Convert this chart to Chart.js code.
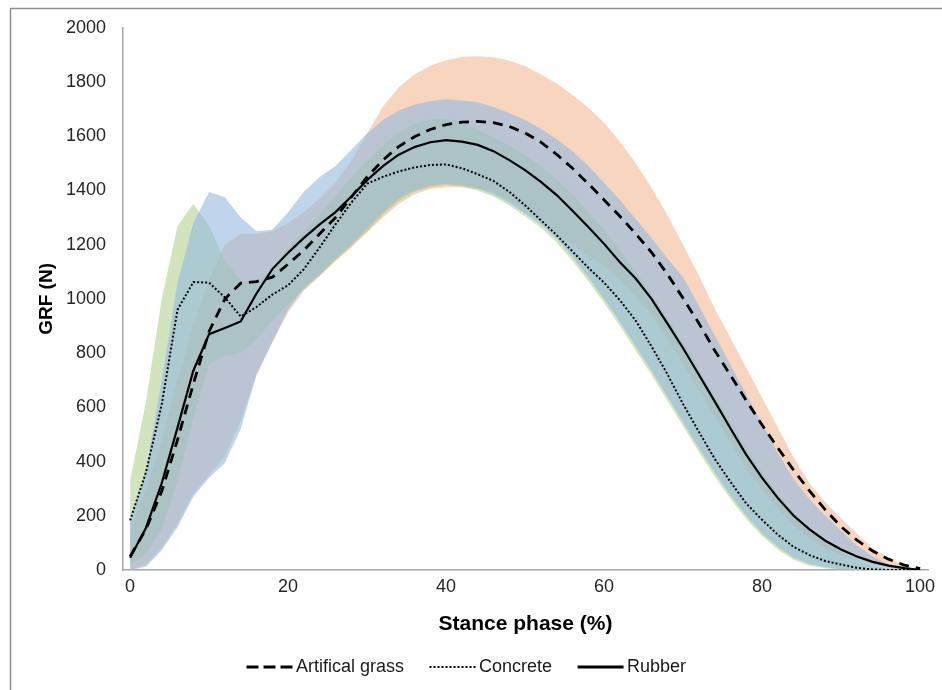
<!DOCTYPE html>
<html>
<head>
<meta charset="utf-8">
<script src="https://cdn.jsdelivr.net/npm/chart.js@4"></script>
<style>
  html, body { margin: 0; padding: 0; background: #fff; }
  #wrap { width: 942px; height: 690px; position: relative; }
</style>
</head>
<body>
<div id="wrap"><canvas id="grfChart" width="942" height="690"></canvas></div>
<script>
// stance phase (%), sampled every 2%
const STANCE = [0,2,4,6,8,10,12,14,16,18,20,22,24,26,28,30,32,34,36,38,40,42,44,46,48,50,
  52,54,56,58,60,62,64,66,68,70,72,74,76,78,80,82,84,86,88,90,92,94,96,98,100];

// mean GRF curves (N)
const grassMean = [50,150,290,480,686,880,1000,1058,1064,1080,1128,1180,1240,1300,1375,1450,1512,1562,1598,1625,1643,1652,1655,1650,1636,1612,
  1578,1533,1482,1425,1365,1305,1240,1172,1092,1002,910,810,718,625,535,450,368,292,222,160,110,70,40,18,5];
const concreteMean = [183,360,610,960,1062,1060,1005,935,970,1016,1050,1110,1190,1275,1355,1425,1450,1470,1485,1494,1496,1482,1460,1435,1395,1345,
  1290,1235,1175,1115,1060,995,920,825,723,612,510,410,325,245,185,130,85,55,33,20,8,2,0,0,0];
const rubberMean = [45,155,320,525,735,870,893,917,1020,1110,1170,1225,1275,1320,1378,1438,1490,1532,1560,1578,1586,1580,1568,1545,1512,1475,
  1432,1383,1325,1265,1203,1135,1075,1000,910,818,720,622,522,425,340,265,200,150,108,76,50,30,16,7,0];

// shaded variability bands (upper / lower, N)
const grassUpper = [150,290,480,700,900,1070,1200,1240,1240,1250,1280,1320,1370,1430,1510,1610,1710,1780,1828,1860,1880,1893,1895,1891,1878,1858,
  1828,1795,1752,1705,1650,1580,1500,1410,1310,1200,1085,965,855,745,635,525,415,320,250,190,135,80,45,15,0];
const grassLower = [0,20,80,170,280,350,420,550,720,840,950,1030,1085,1140,1190,1245,1300,1350,1385,1405,1412,1412,1405,1395,1365,1330,
  1290,1245,1200,1160,1120,1070,1010,940,850,760,660,565,470,375,295,225,165,118,80,55,35,18,8,2,0];
const rubberUpper = [180,370,700,1060,1280,1394,1375,1300,1250,1255,1320,1395,1450,1490,1550,1610,1660,1695,1716,1730,1736,1732,1725,1708,1686,1660,
  1628,1590,1545,1490,1428,1365,1295,1225,1150,1080,975,865,757,647,540,432,335,260,200,145,90,50,22,5,0];
const rubberLower = [0,12,73,158,270,340,395,520,720,840,960,1040,1090,1150,1200,1260,1320,1370,1400,1418,1425,1420,1408,1385,1355,1315,
  1275,1222,1155,1080,1000,915,825,735,640,545,450,360,275,200,135,85,45,22,10,3,0,0,0,0,0];
const concreteUpper = [330,620,1000,1270,1350,1270,1140,1070,1060,1110,1190,1250,1310,1380,1450,1510,1565,1615,1645,1662,1665,1652,1625,1595,1565,1530,
  1490,1440,1385,1320,1255,1180,1100,1020,930,840,740,640,545,450,360,280,210,150,100,65,35,15,5,0,0];
const concreteLower = [20,60,150,330,560,760,790,800,850,920,980,1035,1085,1140,1195,1250,1310,1360,1395,1412,1420,1415,1400,1378,1345,1305,
  1262,1208,1140,1065,985,900,810,720,625,530,435,345,262,188,125,75,38,16,6,0,0,0,0,0,0];

const X_TICKS = [0, 20, 40, 60, 80, 100];
const FONT = "'Liberation Sans', Arial, sans-serif";

const toXY = arr => arr.map((v, i) => ({ x: STANCE[i], y: v }));

function band(label, upper, lower, color, order) {
  return [
    { label: label + ' upper', data: toXY(upper), fill: '+1', backgroundColor: color,
      borderWidth: 0, pointRadius: 0, order },
    { label: label + ' lower', data: toXY(lower), fill: false,
      borderWidth: 0, pointRadius: 0, order },
  ];
}

function meanLine(label, values, dash, width) {
  return { label, data: toXY(values), borderColor: '#000', backgroundColor: '#000',
    borderWidth: width, borderDash: dash, pointRadius: 0, fill: false, order: 0 };
}

// small line samples for the legend (so the dash pattern shows)
function legendGlyph(dash, width) {
  const c = document.createElement('canvas');
  c.width = 60; c.height = 8;
  const g = c.getContext('2d');
  g.strokeStyle = '#000';
  g.lineWidth = width;
  g.setLineDash(dash);
  g.beginPath();
  g.moveTo(12, 4);
  g.lineTo(58, 4);
  g.stroke();
  return c;
}
const GLYPHS = {
  'Artifical grass': legendGlyph([12, 5], 3),
  'Concrete': legendGlyph([2, 2], 2),
  'Rubber': legendGlyph([], 3),
};

// grey frame round the whole chart
const framePlugin = {
  id: 'frame',
  beforeDraw(chart) {
    const c = chart.ctx;
    c.save();
    c.strokeStyle = '#8f8f8f';
    c.lineWidth = 1.5;
    c.strokeRect(10.5, 8.5, 1000, 1000);
    c.restore();
  }
};

new Chart(document.getElementById('grfChart'), {
  type: 'line',
  data: {
    datasets: [
      meanLine('Artifical grass', grassMean, [10, 7], 2.8),
      meanLine('Concrete', concreteMean, [2, 2], 2),
      meanLine('Rubber', rubberMean, [], 2.2),
      ...band('grass', grassUpper, grassLower, 'rgba(239,162,111,0.45)', 4),
      ...band('concrete', concreteUpper, concreteLower, 'rgba(165,201,125,0.5)', 3),
      ...band('rubber', rubberUpper, rubberLower, 'rgba(150,188,222,0.62)', 2),
    ]
  },
  plugins: [framePlugin],
  options: {
    responsive: false,
    animation: false,
    layout: { padding: { top: 25, right: 14, bottom: 4, left: 0 } },
    elements: { line: { tension: 0 } },
    plugins: {
      tooltip: { enabled: false },
      legend: {
        position: 'bottom',
        labels: {
          generateLabels: chart => Chart.defaults.plugins.legend.labels.generateLabels(chart)
            .filter(item => GLYPHS[item.text])
            .map(item => Object.assign(item, { pointStyle: GLYPHS[item.text] })),
          usePointStyle: true,
          pointStyleWidth: 45,
          padding: 21,
          color: '#1a1a1a',
          font: { family: FONT, size: 18 }
        }
      }
    },
    scales: {
      x: {
        type: 'linear',
        min: -0.9,
        max: 101,
        afterBuildTicks: s => { s.ticks = X_TICKS.map(v => ({ value: v })); },
        afterFit: s => { s.height = 67; },
        grid: { display: false, drawTicks: false },
        border: { display: true, color: '#a6a6a6', width: 1.5 },
        ticks: { padding: 6, color: '#262626', callback: v => String(v),
          font: { family: FONT, size: 18 } },
        title: { display: true, text: 'Stance phase (%)', color: '#000',
          padding: { top: 0, bottom: 0 },
          font: { family: FONT, size: 21, weight: 'bold' } }
      },
      y: {
        min: 0,
        max: 2000,
        afterFit: s => { s.width = 123; },
        grid: { display: false, drawTicks: false },
        border: { display: true, color: '#a6a6a6', width: 1.5 },
        ticks: { stepSize: 200, padding: 17, color: '#262626', callback: v => String(v),
          font: { family: FONT, size: 18 } },
        title: { display: true, text: 'GRF (N)', color: '#000',
          padding: { top: 35, bottom: 0 },
          font: { family: FONT, size: 19, weight: 'bold' } }
      }
    }
  }
});
</script>
</body>
</html>
